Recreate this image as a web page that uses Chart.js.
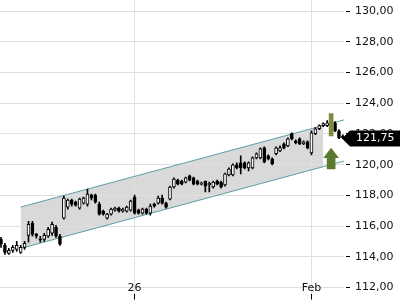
<!DOCTYPE html>
<html>
<head>
<meta charset="utf-8">
<script src="https://cdn.jsdelivr.net/npm/chart.js@4"></script>
<style>
  html, body { margin: 0; padding: 0; background: #fff; }
  canvas { display: block; }
</style>
</head>
<body>
<canvas id="chart" width="400" height="300"></canvas>
<script>
// candles, one per period
const openPrices = [
  115.14, 114.75, 114.23, 114.42, 114.49, 114.29, 114.62, 115.40, 116.19, 115.47,
  115.14, 115.14, 115.34, 115.54, 115.93, 115.34, 116.52, 117.24, 117.70, 117.56,
  117.17, 117.50, 117.43, 118.02, 118.02, 117.43, 116.98, 116.52, 116.78, 117.04,
  117.17, 116.98, 116.98, 117.04, 117.89, 117.04, 116.84, 117.11, 116.84, 117.43,
  117.50, 117.83, 117.50, 117.76, 118.55, 119.00, 118.94, 118.87, 119.27, 119.14,
  118.94, 118.74, 118.94, 118.68, 118.55, 118.94, 118.87, 118.68, 119.33, 119.33,
  119.99, 120.12, 120.12, 119.79, 119.79, 120.44, 120.44, 121.10, 120.58, 120.38,
  120.71, 120.90, 121.36, 121.23, 122.02, 121.56, 121.69, 121.36, 121.49, 120.77,
  122.02, 122.34, 122.54, 122.54, 122.87, 122.73, 122.21, 121.88
];
const highPrices = [
  115.27, 114.88, 114.55, 114.75, 115.01, 114.75, 115.01, 116.32, 116.32, 115.54,
  115.34, 115.54, 115.93, 116.26, 116.06, 115.47, 117.96, 117.76, 117.76, 117.63,
  117.83, 117.89, 118.42, 118.09, 118.09, 117.56, 117.04, 116.84, 117.17, 117.24,
  117.24, 117.17, 117.30, 117.70, 118.02, 117.11, 117.17, 117.17, 117.43, 117.50,
  117.96, 118.02, 117.56, 118.61, 119.14, 119.07, 119.00, 119.20, 119.33, 119.20,
  119.00, 118.87, 118.94, 118.87, 118.94, 119.00, 118.94, 119.46, 119.79, 120.05,
  120.12, 120.58, 120.18, 120.18, 120.51, 120.77, 121.10, 121.17, 120.64, 120.44,
  121.17, 121.23, 121.43, 121.75, 122.08, 121.62, 121.75, 121.56, 121.56, 122.21,
  122.41, 122.60, 122.73, 122.87, 123.00, 122.80, 122.28, 121.95
];
const lowPrices = [
  114.62, 114.16, 114.16, 114.29, 114.36, 114.23, 114.49, 114.95, 115.34, 115.21,
  114.95, 115.01, 115.27, 115.40, 115.27, 114.75, 116.45, 117.11, 117.30, 117.30,
  117.11, 117.43, 117.30, 117.70, 117.50, 116.71, 116.71, 116.45, 116.71, 116.98,
  116.91, 116.91, 116.91, 116.98, 116.78, 116.78, 116.78, 116.78, 116.71, 117.24,
  117.43, 117.43, 117.17, 117.70, 118.48, 118.68, 118.68, 118.81, 118.94, 118.68,
  118.68, 118.68, 118.22, 118.22, 118.48, 118.68, 118.48, 118.61, 119.27, 119.27,
  119.72, 119.40, 119.72, 119.59, 119.72, 120.38, 120.38, 120.12, 120.31, 119.99,
  120.64, 120.84, 121.03, 121.17, 121.62, 121.36, 121.30, 121.30, 121.03, 120.64,
  121.95, 122.28, 122.47, 122.47, 122.34, 122.15, 121.69, 121.69
];
const closePrices = [
  114.82, 114.29, 114.42, 114.62, 114.75, 114.62, 114.88, 116.12, 115.47, 115.34,
  115.08, 115.40, 115.80, 116.12, 115.34, 114.82, 117.83, 117.70, 117.43, 117.37,
  117.76, 117.83, 118.09, 117.83, 117.56, 116.78, 116.78, 116.78, 117.11, 117.17,
  116.98, 117.11, 117.24, 117.63, 116.84, 116.84, 117.11, 116.84, 117.30, 117.30,
  117.83, 117.50, 117.24, 118.55, 119.07, 118.74, 118.74, 119.14, 119.00, 118.74,
  118.74, 118.81, 118.61, 118.81, 118.87, 118.74, 118.55, 119.40, 119.72, 119.99,
  119.79, 119.79, 119.79, 120.12, 120.44, 120.71, 121.03, 120.18, 120.38, 120.05,
  121.10, 121.10, 121.10, 121.69, 121.69, 121.43, 121.36, 121.49, 121.10, 122.08,
  122.34, 122.54, 122.67, 122.73, 122.41, 122.21, 121.75, 121.75
];

const xTickValues = [34, 79];
const xTickLabels = ['26', 'Feb'];
const yTickValues = [112, 114, 116, 118, 120, 122, 124, 126, 128, 130];

// trend channel (x in candle index)
const channelX = [5, 82, 87.5];
const channelUpper = [117.24, 122.55, 122.93];
const channelLower = [114.55, 119.87, 120.25];

// signal marks
const signalIndex = 84;
const signalBar = [121.88, 123.33];
const arrowShaft = [119.72, 120.44];
const arrowHeadX = [82, 84, 86];
const arrowHeadY = [120.44, 121.10, 120.44];

function formatPrice(v) {
  return v.toFixed(2).replace('.', ',');
}

const lastPriceTag = {
  id: 'lastPriceTag',
  afterDraw(chart) {
    const { ctx, chartArea, scales } = chart;
    const last = closePrices[closePrices.length - 1];
    const y = Math.round(scales.y.getPixelForValue(last)) + 0.5;
    const x0 = chartArea.right - 2;
    ctx.save();
    ctx.fillStyle = '#000';
    ctx.beginPath();
    ctx.moveTo(x0, y);
    ctx.lineTo(x0 + 8, y - 8);
    ctx.lineTo(chart.width, y - 8);
    ctx.lineTo(chart.width, y + 8);
    ctx.lineTo(x0 + 8, y + 8);
    ctx.closePath();
    ctx.fill();
    ctx.fillStyle = '#fff';
    ctx.font = '11px "DejaVu Sans"';
    ctx.textBaseline = 'middle';
    ctx.fillText(formatPrice(last), scales.y.left + 12, y);
    ctx.restore();
  }
};

Chart.defaults.font.family = '"DejaVu Sans", sans-serif';
Chart.defaults.font.size = 11;
Chart.defaults.color = '#000';

const candleIdx = closePrices.map((c, i) => i);
const arrowGreen = '#5b7a30';
const gridGray = '#e0e0e0';

new Chart(document.getElementById('chart'), {
  type: 'bar',
  data: {
    datasets: [
      {
        type: 'bar',
        data: candleIdx.map(i => ({ x: i, y: [openPrices[i], closePrices[i]] })),
        backgroundColor: candleIdx.map(i => closePrices[i] >= openPrices[i] ? '#fff' : '#000'),
        borderColor: '#000',
        borderWidth: 1,
        borderSkipped: false,
        barThickness: 3,
        grouped: false,
        order: 1
      },
      {
        type: 'bar',
        data: candleIdx.map(i => ({ x: i, y: [lowPrices[i], highPrices[i]] })),
        backgroundColor: '#000',
        borderWidth: 0,
        barThickness: 1,
        grouped: false,
        order: 2
      },
      {
        type: 'bar',
        data: [{ x: signalIndex, y: signalBar }],
        backgroundColor: '#7d8c3e',
        borderWidth: 0,
        barThickness: 4,
        grouped: false,
        order: 0
      },
      {
        type: 'bar',
        data: [{ x: signalIndex, y: arrowShaft }],
        backgroundColor: arrowGreen,
        borderWidth: 0,
        barThickness: 8,
        grouped: false,
        order: 0
      },
      {
        type: 'line',
        data: arrowHeadX.map((x, i) => ({ x: x, y: arrowHeadY[i] })),
        borderWidth: 0,
        pointRadius: 0,
        backgroundColor: arrowGreen,
        fill: { value: arrowHeadY[0] },
        order: 0
      },
      {
        type: 'line',
        data: [{ x: channelX[0], y: channelUpper[0] }, { x: channelX[2], y: channelUpper[2] }],
        borderColor: '#5e9fa7',
        borderWidth: 1,
        pointRadius: 0,
        fill: false,
        order: 3
      },
      {
        type: 'line',
        data: [{ x: channelX[0], y: channelLower[0] }, { x: channelX[2], y: channelLower[2] }],
        borderColor: '#5e9fa7',
        borderWidth: 1,
        pointRadius: 0,
        fill: false,
        order: 3
      },
      {
        type: 'line',
        data: [{ x: channelX[0], y: channelUpper[0] }, { x: channelX[1], y: channelUpper[1] }],
        borderWidth: 0,
        pointRadius: 0,
        backgroundColor: '#d9d9d9',
        fill: '+1',
        order: 4
      },
      {
        type: 'line',
        data: [{ x: channelX[0], y: channelLower[0] }, { x: channelX[1], y: channelLower[1] }],
        borderWidth: 0,
        pointRadius: 0,
        fill: false,
        order: 4
      }
    ]
  },
  options: {
    responsive: false,
    animation: false,
    devicePixelRatio: 1,
    layout: { padding: { top: 0, left: 0, right: 6.5, bottom: 6.4 } },
    plugins: {
      legend: { display: false },
      tooltip: { enabled: false },
      filler: { drawTime: 'beforeDraw' }
    },
    scales: {
      x: {
        type: 'linear',
        offset: false,
        min: -0.254,
        max: 87.28,
        afterBuildTicks: scale => { scale.ticks = xTickValues.map(v => ({ value: v })); },
        ticks: {
          autoSkip: false,
          maxRotation: 0,
          padding: -17.6,
          color: '#111',
          callback: (v, i) => xTickLabels[i]
        },
        grid: { offset: false, color: gridGray, tickColor: '#000', tickLength: 6 },
        border: { display: false }
      },
      y: {
        position: 'right',
        min: 111.61,
        max: 130.684,
        afterBuildTicks: scale => { scale.ticks = yTickValues.map(v => ({ value: v })); },
        ticks: {
          padding: 0,
          color: '#111',
          font: { size: 11, lineHeight: 0.1 },
          callback: v => formatPrice(v)
        },
        grid: {
          color: gridGray,
          tickColor: '#000',
          tickLength: 11,
          tickBorderDash: [0, 2, 4, 100]
        },
        border: { display: false }
      }
    }
  },
  plugins: [lastPriceTag]
});
</script>
</body>
</html>
